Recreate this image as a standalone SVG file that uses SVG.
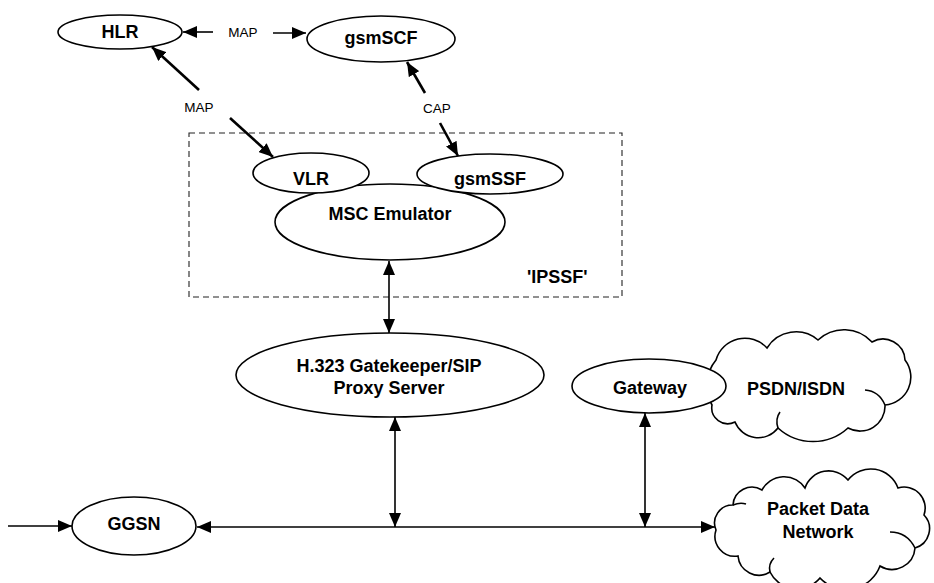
<svg xmlns="http://www.w3.org/2000/svg" width="934" height="583" viewBox="0 0 934 583">
  <defs>
    <marker id="ah" viewBox="0 0 14 12" markerWidth="14" markerHeight="12" markerUnits="userSpaceOnUse" refX="14" refY="6" orient="auto-start-reverse">
      <path d="M0 0 L14 6 L0 12 Z" fill="#000"/>
    </marker>
    <style>
      .node ellipse, .cloud path.outline { fill: #fff; stroke: #000; stroke-width: 1.6; }
      .cloud path.curl { fill: none; stroke: #000; stroke-width: 1.6; }
      .lbl { font-family: "Liberation Sans", Arial, sans-serif; font-weight: bold; font-size: 18px; text-anchor: middle; fill: #000; }
      .sm { font-family: "Liberation Sans", Arial, sans-serif; font-size: 13.5px; text-anchor: middle; fill: #000; }
      .conn line { stroke: #000; stroke-width: 1.6; fill: none; }
      .conn line.thick { stroke-width: 2.6; }
      .box { fill: none; stroke: #222; stroke-width: 1.1; stroke-dasharray: 6 4; }
    </style>
  </defs>
  <rect width="934" height="583" fill="#fff"/>

  <!-- IPSSF boundary -->
  <g id="ipssf">
    <rect class="box" x="189" y="133" width="433" height="164"/>
    <text class="lbl" x="527" y="283" style="text-anchor:start">'IPSSF'</text>
  </g>

  <!-- PSDN/ISDN cloud (behind the gateway) -->
  <g id="psdn" class="cloud">
    <path class="outline" d="M712 405 A40 40 0 0 1 716 360 A30 30 0 0 1 767 348 A34 34 0 0 1 818 340 A38 38 0 0 1 872 342 A22 22 0 0 1 905 360 A28 28 0 0 1 885 405 A25 25 0 0 1 848 428 A52 52 0 0 1 778 428 A25 25 0 0 1 735 422 A16 16 0 0 1 712 405 Z"/>
    <path class="curl" d="M885 405 Q879 391 865 390"/>
    <path class="curl" d="M778 428 Q775 419 780 412"/>
    <text class="lbl" x="796" y="395">PSDN/ISDN</text>
  </g>

  <!-- Packet data network cloud -->
  <g id="pdn" class="cloud">
    <path class="outline" d="M716 530 A18 18 0 0 1 733 505 A19 19 0 0 1 762 490 A25 25 0 0 1 805 488 A25 25 0 0 1 848 480 A29 29 0 0 1 898 488 A21 21 0 0 1 924 515 A20 20 0 0 1 915 548 A23 23 0 0 1 880 566 A36 36 0 0 1 820 578 A30 30 0 0 1 770 572 A21 21 0 0 1 738 556 A20 20 0 0 1 716 530 Z"/>
    <path class="curl" d="M915 548 Q907 532 890 532"/>
    <path class="curl" d="M733 505 Q740 502 746 504"/>
    <path class="curl" d="M770 572 Q768 564 774 558"/>
    <text class="lbl" x="818" y="515">Packet Data</text>
    <text class="lbl" x="818" y="538">Network</text>
  </g>

  <g id="hlr" class="node">
    <ellipse cx="120" cy="32" rx="62" ry="17"/>
    <text class="lbl" x="120" y="38">HLR</text>
  </g>
  <g id="gsmscf" class="node">
    <ellipse cx="381" cy="39" rx="74" ry="23"/>
    <text class="lbl" x="381" y="44">gsmSCF</text>
  </g>
  <g id="msc" class="node">
    <ellipse cx="390" cy="222" rx="115" ry="38"/>
    <text class="lbl" x="390" y="220">MSC Emulator</text>
  </g>
  <g id="vlr" class="node">
    <ellipse cx="311" cy="173" rx="58" ry="20"/>
    <text class="lbl" x="311" y="185">VLR</text>
  </g>
  <g id="gsmssf" class="node">
    <ellipse cx="490" cy="174" rx="73" ry="20"/>
    <text class="lbl" x="490" y="185">gsmSSF</text>
  </g>
  <g id="gatekeeper" class="node">
    <ellipse cx="390" cy="375" rx="154" ry="42"/>
    <text class="lbl" x="389" y="372">H.323 Gatekeeper/SIP</text>
    <text class="lbl" x="389" y="394">Proxy Server</text>
  </g>
  <g id="ggsn" class="node">
    <ellipse cx="134" cy="526" rx="62" ry="29"/>
    <text class="lbl" x="134" y="530">GGSN</text>
  </g>
  <g id="gateway" class="node">
    <ellipse cx="649" cy="386" rx="77" ry="27"/>
    <text class="lbl" x="650" y="394">Gateway</text>
  </g>

  <!-- connectors -->
  <g id="connectors" class="conn">
    <line x1="213" y1="32" x2="183" y2="32" marker-end="url(#ah)"/>
    <line x1="273" y1="33" x2="306" y2="33" marker-end="url(#ah)"/>
    <text class="sm" x="243" y="37">MAP</text>

    <line class="thick" x1="199" y1="90" x2="152" y2="47" marker-end="url(#ah)"/>
    <line class="thick" x1="230" y1="118" x2="273" y2="157" marker-end="url(#ah)"/>
    <text class="sm" x="199" y="112">MAP</text>

    <line class="thick" x1="425" y1="93" x2="407" y2="62" marker-end="url(#ah)"/>
    <line class="thick" x1="440" y1="123" x2="458" y2="156" marker-end="url(#ah)"/>
    <text class="sm" x="437" y="113">CAP</text>

    <line x1="389" y1="261" x2="389" y2="333" marker-start="url(#ah)" marker-end="url(#ah)"/>
    <line x1="395" y1="417" x2="395" y2="527" marker-start="url(#ah)" marker-end="url(#ah)"/>
    <line x1="645" y1="413" x2="645" y2="527" marker-start="url(#ah)" marker-end="url(#ah)"/>

    <line x1="197" y1="527" x2="715" y2="527" marker-start="url(#ah)" marker-end="url(#ah)"/>
    <line x1="8" y1="526" x2="72" y2="526" marker-end="url(#ah)"/>
  </g>
</svg>
